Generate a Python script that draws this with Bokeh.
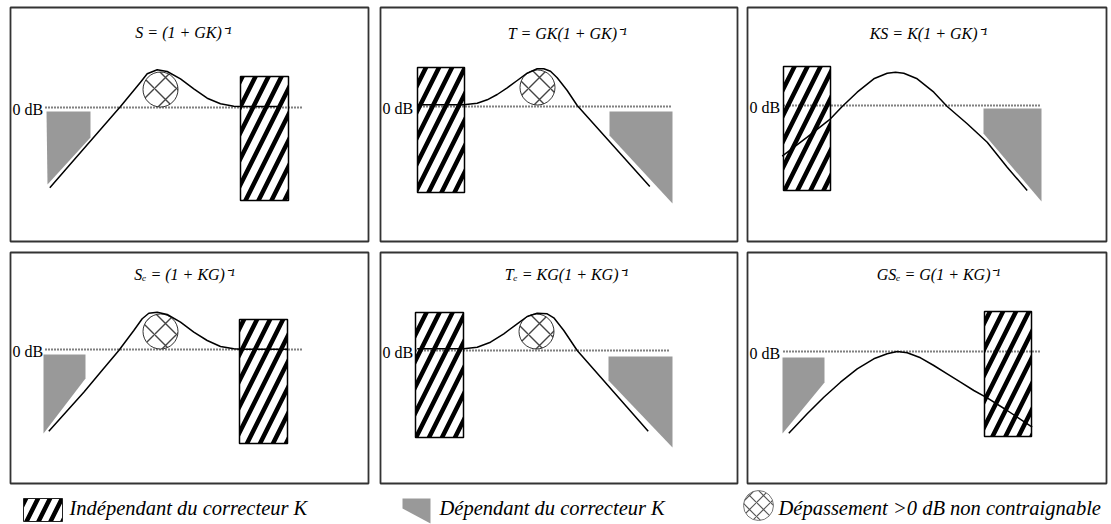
from bokeh.plotting import figure
from bokeh.layouts import row, column
from bokeh.models import Range1d
from bokeh.core.properties import value
from bokeh.embed import file_html
from bokeh.resources import INLINE

# ---------------- data (local units: x = log-frequency position, y = gain in dB, 0 = 0 dB line)
titles = ["S = (1 + GK)⁻¹", "T = GK(1 + GK)⁻¹", "KS = K(1 + GK)⁻¹",
          "Sₑ = (1 + KG)⁻¹", "Tₑ = KG(1 + KG)⁻¹", "GSₑ = G(1 + KG)⁻¹"]

# gain curves
S_x = [39.3, 110, 130, 136.7, 146.7, 156.7, 170, 183.3, 196.7, 210, 223.3, 230, 270]
S_y = [-80.3, 1, 25.3, 33.7, 37.7, 36, 28.7, 18.7, 9.3, 3.7, 1.3, 1, 1]
T_x = [37.7, 83.3, 96.7, 106.7, 116.7, 126.7, 136.7, 146.7, 156.7, 163.3, 170, 176.7, 186.7, 196.7, 269.3]
T_y = [1.7, 1.7, 3.3, 6.7, 12, 18.7, 26, 33.3, 37.7, 37.7, 35.3, 28.7, 16, 1, -80]
KS_x = [34.7, 59.7, 83, 94.7, 109.7, 126.3, 139.7, 148, 156.3, 169.7, 186.3, 199.7, 219.7, 239.7, 259.7, 279.7]
KS_y = [-50.7, -31.7, -13.3, -1, 13.3, 26.7, 32.3, 33.3, 32.3, 26.7, 13.3, -1, -18.3, -36.7, -61.7, -85]
Se_x = [38.3, 73.3, 90, 108.3, 123.3, 131.7, 138.3, 146.7, 156.7, 170, 183.3, 196.7, 210, 223.3, 230, 276.7]
Se_y = [-81.7, -42.7, -22.7, -1, 19, 30.7, 36.3, 37.3, 35, 27.3, 17.3, 9, 3, 0.7, 0.3, 0.3]
Te_x = [36.7, 83.3, 96.7, 110, 123.3, 136.7, 146.7, 156.7, 166.7, 173.3, 183.3, 196.7, 267.7]
Te_y = [1.7, 1.7, 3.3, 8.3, 16.7, 26.7, 34, 37.3, 36.7, 32.7, 20, 0, -80.7]
GSe_x = [41.3, 59.7, 76.3, 93, 109.7, 126.3, 139.7, 149.7, 159.7, 173, 186.3, 199.7, 213, 226.3, 239.7, 259.7, 284.7]
GSe_y = [-81.7, -62.3, -45.7, -30.7, -17.3, -7.3, -2.3, 0, -1.3, -6.3, -14, -22.3, -30.7, -39, -46.3, -59, -75.7]

curves_x = [S_x, T_x, KS_x, Se_x, Te_x, GSe_x]
curves_y = [S_y, T_y, KS_y, Se_y, Te_y, GSe_y]

# constraints independent of K (hatched boxes): left, right, top, bottom
box_left = [230, 37, 36, 229, 35, 237]
box_right = [278, 84, 83, 277, 83, 284]
box_top = [31, 39, 39, 30, 38, 40]
box_bottom = [-93, -86, -85, -94, -87, -85]

# constraints depending on K (grey templates)
tmpl_x = [[36, 80, 80, 37], [229, 292, 292, 229], [236, 294, 294, 236],
          [33, 75, 75, 33], [228, 292, 292, 228], [35, 77, 77, 35]]
tmpl_y = [[-4, -4, -30, -77], [-5, -5, -97, -29], [-3, -3, -96, -28],
          [-5, -5, -29, -84], [-6, -6, -97, -30], [-6, -6, -31, -82]]

# non-constrainable overshoot (circles): centre x, centre y (None = absent)
over_x = [150, 157, None, 150, 156, None]
over_y = [18, 19, None, 18, 19, None]
over_r = 17.5

# 0 dB reference line extent
zero_x0 = [35, 37, 36, 35, 35, 36]
zero_x1 = [293, 292, 292, 293, 290, 293]

legend_labels = ["Indépendant du correcteur K", "Dépendant du correcteur K",
                 "Dépassement >0 dB non contraignable"]

# ---------------- layout constants (pixels)
col_w = [358, 357, 359]
col_mb = [(10, 6), (6, 5), (5, 5)]
row_h = [234, 231]
row_mb = [(7, 5), (6, 5)]
top_to_zero = [100, 99, 98, 97, 98, 99]
title_y = [75, 73, 72.5, 75.5, 76, 77]
title_x = [173, 187, 181, 174, 186, 191]

SERIF = value("Liberation Serif")
GREY = "#999999"


def panel(i):
    r, c = divmod(i, 3)
    w, h = col_w[c], row_h[r]
    tz = top_to_zero[i]
    p = figure(width=w + col_mb[c][0] + col_mb[c][1], height=h + row_mb[r][0] + row_mb[r][1],
               x_range=Range1d(0, w), y_range=Range1d(tz - h, tz),
               x_axis_type=None, y_axis_type=None, title=None,
               toolbar_location=None, output_backend="svg",
               min_border_left=col_mb[c][0], min_border_right=col_mb[c][1],
               min_border_top=row_mb[r][0], min_border_bottom=row_mb[r][1])
    p.grid.visible = False
    p.outline_line_color = "#333333"
    p.outline_line_width = 1.8
    p.background_fill_color = "white"
    p.border_fill_color = "white"

    p.patch(tmpl_x[i], tmpl_y[i], fill_color=GREY, line_color=None)
    p.quad(left=box_left[i], right=box_right[i], top=box_top[i], bottom=box_bottom[i],
           fill_color="white", hatch_pattern="/", hatch_color="black",
           hatch_scale=26, hatch_weight=4.5, line_color="black", line_width=1.5)
    p.segment(x0=zero_x0[i], y0=0, x1=zero_x1[i], y1=0, line_color="black",
              line_width=1.8, line_dash="1 2")
    if over_x[i] is not None:
        p.circle(x=over_x[i], y=over_y[i], radius=over_r, fill_color="white",
                 hatch_pattern="x", hatch_color="#444444", hatch_scale=22,
                 hatch_weight=1.4, line_color="#333333", line_width=1)
    p.line(curves_x[i], curves_y[i], line_color="black", line_width=1.5)
    p.text(x=[2], y=[-1.5], text=["0 dB"], text_font=SERIF, text_font_size="16px",
           text_color="black", text_baseline="middle", text_align="left")
    p.text(x=[title_x[i]], y=[title_y[i]], text=[titles[i]], text_font=SERIF,
           text_font_size="16px", text_font_style="italic", text_color="black",
           text_baseline="middle", text_align="center")
    return p


panels = [panel(i) for i in range(6)]

# ---------------- legend strip
lg = figure(width=1111, height=36, x_range=Range1d(0, 1111), y_range=Range1d(524, 488),
            x_axis_type=None, y_axis_type=None, title=None, toolbar_location=None,
            output_backend="svg", min_border=0)
lg.grid.visible = False
lg.outline_line_color = None
lg.quad(left=23, right=62, top=498, bottom=521, fill_color="white", hatch_pattern="/",
        hatch_color="black", hatch_scale=24, hatch_weight=4.5, line_color="#222222",
        line_width=1)
lg.patch([402, 430, 430, 402], [498, 498, 523, 508], fill_color=GREY, line_color=None)
lg.circle(x=758, y=505, radius=15, fill_color="white", hatch_pattern="x",
          hatch_color="#555555", hatch_scale=14, hatch_weight=1.2,
          line_color="#777777", line_width=1)
lg.text(x=[69, 439, 778], y=[507, 507, 507], text=legend_labels, text_font=SERIF,
        text_font_size="20.5px", text_font_style="italic", text_color="black",
        text_baseline="middle", text_align="left")

layout = column(row(*panels[:3]), row(*panels[3:]), lg)

open("out.html", "w").write(file_html(layout, INLINE))
